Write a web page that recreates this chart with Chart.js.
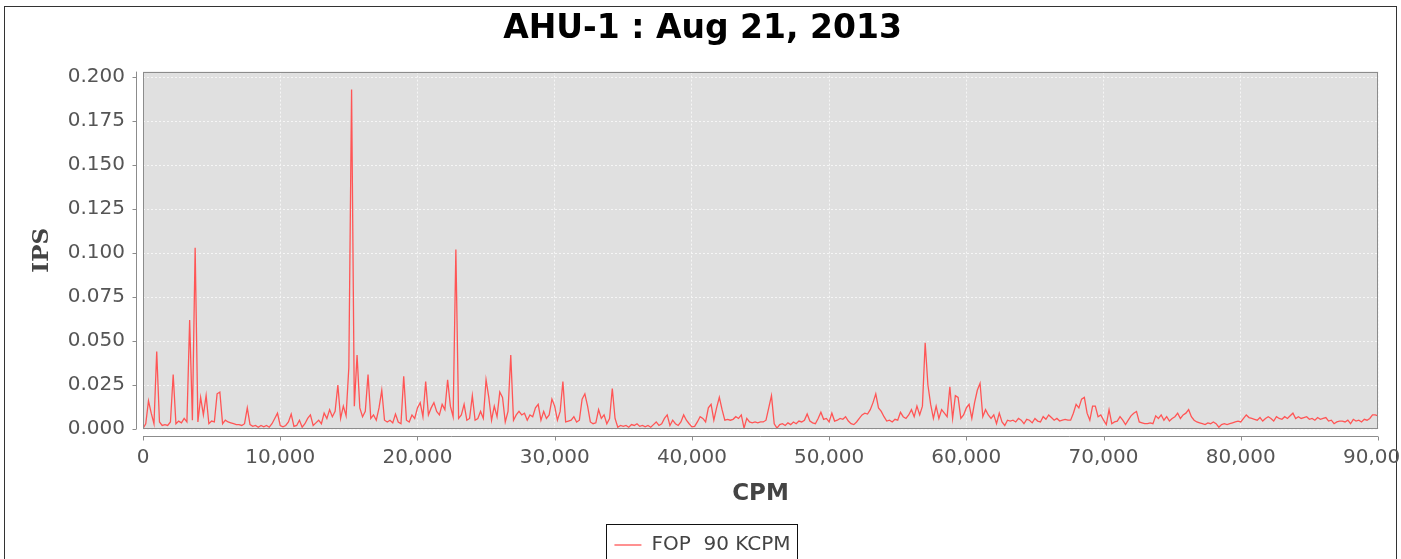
<!DOCTYPE html>
<html>
<head>
<meta charset="utf-8">
<title>AHU-1 : Aug 21, 2013</title>
<script src="https://cdn.jsdelivr.net/npm/chart.js@4.4.1/dist/chart.umd.min.js"></script>
<style>
  html, body { margin: 0; padding: 0; background: #fff; overflow: hidden; }
  canvas { display: block; }
</style>
</head>
<body>
<canvas id="spectrumChart" width="1401" height="559"></canvas>
<script>
// spectrum bins, 200 CPM apart
const cpmStep = 200;
const ips = [
  0.0003, 0.0030, 0.0160, 0.0090, 0.0030, 0.0440, 0.0040, 0.0020, 0.0025, 0.0020, // 0
  0.0040, 0.0310, 0.0030, 0.0045, 0.0035, 0.0060, 0.0040, 0.0620, 0.0050, 0.1030, // 2000
  0.0040, 0.0180, 0.0080, 0.0190, 0.0030, 0.0045, 0.0040, 0.0200, 0.0210, 0.0030, // 4000
  0.0050, 0.0040, 0.0035, 0.0030, 0.0025, 0.0025, 0.0020, 0.0030, 0.0120, 0.0025, // 6000
  0.0015, 0.0020, 0.0010, 0.0020, 0.0012, 0.0020, 0.0010, 0.0030, 0.0060, 0.0090, // 8000
  0.0020, 0.0012, 0.0020, 0.0040, 0.0085, 0.0015, 0.0020, 0.0050, 0.0010, 0.0030, // 10000
  0.0060, 0.0080, 0.0020, 0.0035, 0.0050, 0.0030, 0.0090, 0.0060, 0.0110, 0.0070, // 12000
  0.0100, 0.0250, 0.0060, 0.0130, 0.0075, 0.0350, 0.1930, 0.0130, 0.0420, 0.0120, // 14000
  0.0070, 0.0100, 0.0310, 0.0060, 0.0080, 0.0050, 0.0120, 0.0220, 0.0050, 0.0040, // 16000
  0.0050, 0.0035, 0.0085, 0.0040, 0.0030, 0.0300, 0.0050, 0.0040, 0.0080, 0.0060, // 18000
  0.0120, 0.0150, 0.0070, 0.0270, 0.0080, 0.0120, 0.0150, 0.0100, 0.0080, 0.0140, // 20000
  0.0110, 0.0280, 0.0130, 0.0070, 0.1020, 0.0060, 0.0080, 0.0140, 0.0050, 0.0060, // 22000
  0.0190, 0.0050, 0.0060, 0.0100, 0.0060, 0.0280, 0.0180, 0.0050, 0.0130, 0.0070, // 24000
  0.0210, 0.0180, 0.0040, 0.0100, 0.0420, 0.0050, 0.0080, 0.0100, 0.0080, 0.0090, // 26000
  0.0050, 0.0080, 0.0070, 0.0120, 0.0140, 0.0050, 0.0100, 0.0060, 0.0080, 0.0170, // 28000
  0.0130, 0.0050, 0.0100, 0.0270, 0.0040, 0.0045, 0.0050, 0.0070, 0.0040, 0.0050, // 30000
  0.0170, 0.0200, 0.0130, 0.0040, 0.0030, 0.0035, 0.0110, 0.0060, 0.0080, 0.0030, // 32000
  0.0060, 0.0230, 0.0060, 0.0010, 0.0020, 0.0015, 0.0020, 0.0010, 0.0025, 0.0020, // 34000
  0.0030, 0.0015, 0.0020, 0.0012, 0.0020, 0.0010, 0.0025, 0.0040, 0.0020, 0.0030, // 36000
  0.0060, 0.0080, 0.0020, 0.0050, 0.0030, 0.0020, 0.0040, 0.0080, 0.0050, 0.0030, // 38000
  0.0012, 0.0015, 0.0040, 0.0070, 0.0060, 0.0040, 0.0120, 0.0140, 0.0050, 0.0120, // 40000
  0.0180, 0.0110, 0.0050, 0.0055, 0.0050, 0.0055, 0.0070, 0.0060, 0.0080, 0.0005, // 42000
  0.0060, 0.0040, 0.0035, 0.0040, 0.0035, 0.0040, 0.0040, 0.0050, 0.0120, 0.0190, // 44000
  0.0030, 0.0005, 0.0025, 0.0030, 0.0020, 0.0035, 0.0025, 0.0040, 0.0030, 0.0045, // 46000
  0.0040, 0.0050, 0.0085, 0.0045, 0.0035, 0.0030, 0.0060, 0.0095, 0.0055, 0.0060, // 48000
  0.0040, 0.0090, 0.0045, 0.0050, 0.0060, 0.0055, 0.0070, 0.0045, 0.0030, 0.0025, // 50000
  0.0040, 0.0060, 0.0080, 0.0090, 0.0085, 0.0110, 0.0150, 0.0200, 0.0120, 0.0100, // 52000
  0.0070, 0.0045, 0.0050, 0.0040, 0.0055, 0.0050, 0.0095, 0.0070, 0.0060, 0.0080, // 54000
  0.0110, 0.0070, 0.0130, 0.0080, 0.0130, 0.0490, 0.0250, 0.0140, 0.0060, 0.0130, // 56000
  0.0060, 0.0110, 0.0090, 0.0070, 0.0240, 0.0060, 0.0190, 0.0180, 0.0060, 0.0080, // 58000
  0.0120, 0.0140, 0.0060, 0.0150, 0.0220, 0.0260, 0.0070, 0.0110, 0.0080, 0.0060, // 60000
  0.0080, 0.0030, 0.0090, 0.0040, 0.0020, 0.0050, 0.0045, 0.0050, 0.0040, 0.0060, // 62000
  0.0050, 0.0030, 0.0055, 0.0050, 0.0035, 0.0060, 0.0045, 0.0040, 0.0070, 0.0055, // 64000
  0.0080, 0.0065, 0.0050, 0.0060, 0.0045, 0.0050, 0.0055, 0.0050, 0.0050, 0.0090, // 66000
  0.0140, 0.0120, 0.0170, 0.0180, 0.0090, 0.0050, 0.0130, 0.0130, 0.0070, 0.0080, // 68000
  0.0050, 0.0025, 0.0110, 0.0030, 0.0040, 0.0045, 0.0070, 0.0050, 0.0025, 0.0050, // 70000
  0.0075, 0.0090, 0.0100, 0.0040, 0.0035, 0.0030, 0.0030, 0.0035, 0.0030, 0.0075, // 72000
  0.0060, 0.0080, 0.0050, 0.0070, 0.0045, 0.0060, 0.0070, 0.0090, 0.0060, 0.0080, // 74000
  0.0090, 0.0110, 0.0070, 0.0050, 0.0040, 0.0035, 0.0030, 0.0025, 0.0035, 0.0030, // 76000
  0.0040, 0.0030, 0.0010, 0.0025, 0.0030, 0.0025, 0.0030, 0.0035, 0.0040, 0.0045, // 78000
  0.0040, 0.0060, 0.0080, 0.0065, 0.0060, 0.0055, 0.0050, 0.0065, 0.0045, 0.0060, // 80000
  0.0070, 0.0060, 0.0045, 0.0070, 0.0060, 0.0055, 0.0070, 0.0060, 0.0075, 0.0090, // 82000
  0.0060, 0.0070, 0.0060, 0.0065, 0.0070, 0.0055, 0.0060, 0.0050, 0.0065, 0.0055, // 84000
  0.0060, 0.0065, 0.0045, 0.0050, 0.0030, 0.0040, 0.0045, 0.0045, 0.0040, 0.0050, // 86000
  0.0030, 0.0055, 0.0045, 0.0050, 0.0040, 0.0055, 0.0050, 0.0060, 0.0080, 0.0080, // 88000
  0.0075                                                                          // 90000
];
const cpm = ips.map((_, i) => i * cpmStep);

const cpmTicks = [0, 10000, 20000, 30000, 40000, 50000, 60000, 70000, 80000, 90000];
const ipsTicks = [0, 0.025, 0.05, 0.075, 0.1, 0.125, 0.15, 0.175, 0.2];

const seriesName = 'FOP  90 KCPM';
const chartTitle = 'AHU-1 : Aug 21, 2013';

const tickFont = { family: 'DejaVu Sans', size: 20 };

// grey plot box, offset axis lines and the legend frame (JFreeChart look)
const plotFrame = {
    id: 'plotFrame',
    beforeDraw(chart) {
        const { ctx, chartArea: a } = chart;
        ctx.save();
        ctx.fillStyle = '#ffffff';
        ctx.fillRect(0, 0, chart.width, chart.height);
        ctx.strokeStyle = '#333333';
        ctx.lineWidth = 1;
        ctx.strokeRect(4.5, 6.5, chart.width - 9, chart.height + 20);
        ctx.fillStyle = '#e0e0e0';
        ctx.fillRect(a.left, a.top, a.right - a.left, a.bottom - a.top);
        ctx.restore();
    },
    afterDraw(chart) {
        const { ctx, chartArea: a } = chart;
        const x = chart.scales.x, y = chart.scales.y;
        ctx.save();
        ctx.lineWidth = 1;
        ctx.strokeStyle = '#8c8c8c';
        ctx.strokeRect(Math.round(a.left) + 0.5, Math.round(a.top) + 0.5,
            Math.round(a.right - a.left) - 1, Math.round(a.bottom - a.top) - 1);

        const ax = Math.round(a.left) - 7 + 0.5;
        const ay = Math.round(a.bottom) + 7 + 0.5;
        ctx.beginPath();
        ctx.moveTo(ax, a.top);
        ctx.lineTo(ax, a.bottom);
        y.ticks.forEach(t => {
            const py = Math.round(y.getPixelForValue(t.value)) + 0.5;
            ctx.moveTo(ax - 4, py);
            ctx.lineTo(ax, py);
        });
        ctx.moveTo(a.left, ay);
        ctx.lineTo(a.right, ay);
        x.ticks.forEach(t => {
            const px = Math.round(x.getPixelForValue(t.value)) + 0.5;
            ctx.moveTo(px, ay);
            ctx.lineTo(px, ay + 4);
        });
        ctx.stroke();

        const hb = chart.legend.legendHitBoxes[0];
        if (hb) {
            ctx.strokeStyle = '#111111';
            ctx.strokeRect(Math.round(hb.left) - 7.5, Math.round(hb.top) - 10.5, Math.round(hb.width) + 15, 60);
        }
        ctx.restore();
    }
};

const ctx = document.getElementById('spectrumChart').getContext('2d');

new Chart(ctx, {
    type: 'line',
    data: {
        datasets: [{
            label: seriesName,
            data: ips.map((v, i) => ({ x: cpm[i], y: v })),
            borderColor: '#ff5555',
            backgroundColor: '#ff5555',
            borderWidth: 1.3,
            pointRadius: 0,
            tension: 0,
            fill: false
        }]
    },
    options: {
        responsive: false,
        animation: false,
        devicePixelRatio: 1,
        layout: {
            padding: { left: 27, right: 23, top: 8, bottom: -6 }
        },
        plugins: {
            title: {
                display: true,
                text: chartTitle,
                color: '#000000',
                font: { family: 'DejaVu Sans', size: 33, weight: 'bold' },
                padding: { top: 2, bottom: 22 }
            },
            legend: {
                position: 'bottom',
                labels: {
                    usePointStyle: true,
                    pointStyle: 'line',
                    pointStyleWidth: 27,
                    padding: 10,
                    color: '#444444',
                    font: { family: 'DejaVu Sans', size: 20 }
                }
            },
            tooltip: { enabled: false }
        },
        scales: {
            x: {
                type: 'linear',
                min: 0,
                max: 90000,
                afterBuildTicks: s => { s.ticks = cpmTicks.map(v => ({ value: v })); },
                afterFit: s => { s.height = 96; s.paddingLeft = 0; s.paddingRight = 0; },
                ticks: {
                    autoSkip: false,
                    maxRotation: 0,
                    padding: 17,
                    color: '#555555',
                    font: tickFont,
                    callback: v => v.toLocaleString('en-US')
                },
                grid: { color: '#f6f6f6', drawTicks: false },
                border: { display: false, dash: [2, 2] },
                title: {
                    display: true,
                    text: 'CPM',
                    color: '#444444',
                    font: { family: 'DejaVu Sans', size: 23, weight: 'bold' },
                    padding: { top: 0, bottom: 17 }
                }
            },
            y: {
                min: 0,
                max: 0.2032,
                afterBuildTicks: s => { s.ticks = ipsTicks.map(v => ({ value: v })); },
                afterFit: s => { s.width = 116; s.paddingTop = 0; s.paddingBottom = 0; },
                ticks: {
                    padding: 18,
                    color: '#555555',
                    font: tickFont,
                    callback: v => v.toFixed(3)
                },
                grid: { color: '#f6f6f6', drawTicks: false },
                border: { display: false, dash: [2, 2] },
                title: {
                    display: true,
                    text: 'IPS',
                    color: '#444444',
                    font: { family: 'DejaVu Serif', size: 23, weight: 'bold' },
                    padding: { top: 1, bottom: 0 }
                }
            }
        }
    },
    plugins: [plotFrame]
});
</script>
</body>
</html>
